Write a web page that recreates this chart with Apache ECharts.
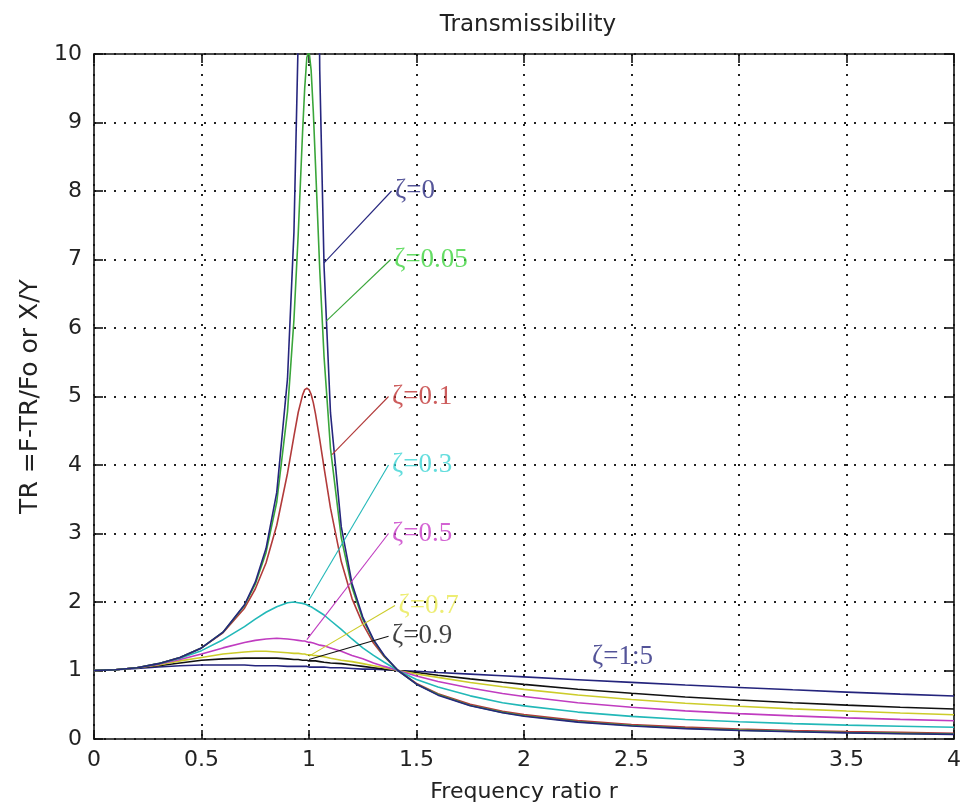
<!DOCTYPE html>
<html>
<head>
<meta charset="utf-8">
<script src="https://cdn.jsdelivr.net/npm/echarts@6/dist/echarts.min.js"></script>
<style>
  html, body { margin: 0; padding: 0; background: #fff; }
  #chart { width: 964px; height: 811px; }
</style>
</head>
<body>
<div id="chart"></div>
<script>
// Frequency ratio r (shared x values for every curve)
const ratio = [0, 0.1, 0.2, 0.3, 0.4, 0.5, 0.6, 0.7, 0.75, 0.8, 0.85, 0.9, 0.93, 0.95, 0.97, 0.98, 0.99, 1.0,
  1.01, 1.02, 1.03, 1.05, 1.07, 1.1, 1.15, 1.2, 1.25, 1.3, 1.35, 1.414, 1.5, 1.6, 1.75, 1.9, 2, 2.25, 2.5,
  2.75, 3, 3.25, 3.5, 3.75, 4];

// Transmissibility for each damping ratio
const tr_0 = [1, 1.01, 1.04, 1.10, 1.19, 1.33, 1.56, 1.96, 2.29, 2.78, 3.60, 5.26, 7.40, 10.26, 16.9, 25.3, 50.3, null,
  49.8, 24.8, 16.4, 9.76, 6.90, 4.76, 3.10, 2.27, 1.78, 1.45, 1.22, 1.00, 0.80, 0.64, 0.485, 0.383, 0.333, 0.246, 0.190,
  0.152, 0.125, 0.105, 0.089, 0.077, 0.067];
const tr_005 = [1, 1.01, 1.04, 1.10, 1.19, 1.33, 1.56, 1.95, 2.26, 2.72, 3.46, 4.78, 6.12, 7.38, 8.85, 9.50, 9.95, 10.05,
  9.76, 9.16, 8.40, 6.85, 5.58, 4.24, 2.94, 2.21, 1.75, 1.44, 1.21, 1.00, 0.80, 0.65, 0.49, 0.389, 0.339, 0.252, 0.196,
  0.158, 0.130, 0.110, 0.094, 0.082, 0.072];
const tr_01 = [1, 1.01, 1.04, 1.10, 1.19, 1.33, 1.55, 1.91, 2.19, 2.57, 3.12, 3.88, 4.42, 4.77, 5.02, 5.10, 5.12, 5.10,
  5.03, 4.91, 4.75, 4.37, 3.96, 3.37, 2.59, 2.05, 1.68, 1.40, 1.20, 1.00, 0.81, 0.66, 0.506, 0.406, 0.356, 0.268, 0.212,
  0.173, 0.145, 0.124, 0.108, 0.096, 0.085];
const tr_03 = [1, 1.01, 1.04, 1.10, 1.18, 1.29, 1.45, 1.64, 1.75, 1.85, 1.93, 1.99, 2.00, 1.99, 1.98, 1.97, 1.96, 1.94,
  1.93, 1.91, 1.89, 1.85, 1.81, 1.73, 1.60, 1.46, 1.33, 1.22, 1.12, 1.00, 0.87, 0.76, 0.63, 0.53, 0.483, 0.393, 0.330,
  0.285, 0.251, 0.225, 0.203, 0.186, 0.171];
const tr_05 = [1, 1.01, 1.04, 1.09, 1.16, 1.24, 1.33, 1.41, 1.44, 1.46, 1.47, 1.46, 1.45, 1.44, 1.43, 1.43, 1.42, 1.41,
  1.41, 1.40, 1.39, 1.37, 1.36, 1.33, 1.28, 1.22, 1.17, 1.11, 1.06, 1.00, 0.92, 0.84, 0.745, 0.665, 0.620, 0.530, 0.463,
  0.411, 0.370, 0.337, 0.309, 0.286, 0.266];
const tr_07 = [1, 1.01, 1.04, 1.08, 1.14, 1.19, 1.24, 1.27, 1.28, 1.28, 1.27, 1.26, 1.25, 1.25, 1.24, 1.24, 1.23, 1.23,
  1.23, 1.22, 1.22, 1.21, 1.20, 1.18, 1.15, 1.13, 1.10, 1.07, 1.04, 1.00, 0.95, 0.90, 0.826, 0.763, 0.725, 0.643, 0.577,
  0.523, 0.478, 0.440, 0.408, 0.380, 0.355];
const tr_09 = [1, 1.01, 1.04, 1.07, 1.11, 1.15, 1.17, 1.18, 1.18, 1.18, 1.18, 1.17, 1.16, 1.16, 1.15, 1.15, 1.15, 1.14,
  1.14, 1.14, 1.14, 1.13, 1.12, 1.11, 1.10, 1.08, 1.06, 1.04, 1.02, 1.00, 0.97, 0.93, 0.878, 0.828, 0.797, 0.727, 0.667,
  0.614, 0.569, 0.529, 0.495, 0.464, 0.437];
const tr_15 = [1, 1.01, 1.03, 1.05, 1.07, 1.08, 1.08, 1.08, 1.07, 1.07, 1.07, 1.06, 1.06, 1.06, 1.06, 1.06, 1.06, 1.05,
  1.05, 1.05, 1.05, 1.05, 1.05, 1.04, 1.04, 1.03, 1.02, 1.02, 1.01, 1.00, 0.99, 0.97, 0.947, 0.923, 0.907, 0.866, 0.826,
  0.788, 0.752, 0.718, 0.685, 0.655, 0.627];

const curveNames = ['ζ=0', 'ζ=0.05', 'ζ=0.1', 'ζ=0.3', 'ζ=0.5', 'ζ=0.7', 'ζ=0.9', 'ζ=1:5'];
const curveValues = [tr_0, tr_005, tr_01, tr_03, tr_05, tr_07, tr_09, tr_15];

// Annotation leaders: from a point on the curve to where the text starts
const leaderFrom = [[1.07, 6.95], [1.08, 6.1], [1.107, 4.15], [1.0, 2.03], [0.99, 1.45], [1.0, 1.21], [1.0, 1.16], null];
const leaderTo = [[1.384, 8.0], [1.38, 7.0], [1.37, 5.0], [1.37, 4.0], [1.37, 3.0], [1.4, 1.95], [1.37, 1.5], [2.30, 1.2]];

// Axis ranges and tick steps
const xRange = [0, 4], xStep = 0.5;
const yRange = [0, 10], yStep = 1;

const lineColors = ['#26267e', '#3aa63a', '#b23b3b', '#22b8b8', '#c03cc0', '#cccc2a', '#111111', '#24247c'];
const textColors = ['#2a2a80', '#3ed43e', '#c03434', '#3cd4d4', '#c83cc8', '#e8e850', '#111111', '#28287e'];

const chart = echarts.init(document.getElementById('chart'), null, { renderer: 'canvas' });

const sansFont = 'DejaVu Sans';
const labelFont = 'Liberation Serif';

const series = curveValues.map((vals, i) => {
  const s = {
    type: 'line',
    name: curveNames[i],
    data: ratio.map((x, k) => [x, vals[k] === null ? '-' : vals[k]]),
    showSymbol: false,
    symbol: 'none',
    clip: true,
    lineStyle: { color: lineColors[i], width: 1.6 },
    animation: false,
    z: 3 + (curveValues.length - i) * 0.01
  };
  if (leaderFrom[i]) {
    s.markLine = {
      silent: true,
      symbol: 'none',
      animation: false,
      label: { show: false },
      lineStyle: { color: lineColors[i], width: 1.1, type: 'solid' },
      data: [[{ coord: leaderFrom[i] }, { coord: leaderTo[i] }]]
    };
  }
  return s;
});

// Text of the annotations
series.push({
  type: 'scatter',
  symbol: 'circle',
  symbolSize: 1,
  itemStyle: { color: 'rgba(0,0,0,0)' },
  silent: true,
  animation: false,
  z: 10,
  data: leaderTo.map((p, i) => ({
    value: p,
    label: {
      show: true,
      position: 'right',
      distance: 3,
      formatter: curveNames[i],
      color: textColors[i],
      fontFamily: labelFont,
      fontSize: 27
    }
  }))
});

const axisLineStyle = { color: '#111', width: 1.6 };
const tickLabel = { color: '#222', fontFamily: sansFont, fontSize: 22 };

chart.setOption({
  backgroundColor: '#ffffff',
  animation: false,
  title: {
    text: 'Transmissibility',
    left: 523,
    top: 9,
    textAlign: 'center',
    textStyle: { fontFamily: sansFont, fontSize: 23, fontWeight: 'normal', color: '#222' }
  },
  grid: { left: 94, right: 6, top: 54, bottom: 72, containLabel: false },
  xAxis: [
    {
      type: 'value', min: xRange[0], max: xRange[1], interval: xStep, position: 'bottom',
      name: 'Frequency ratio r', nameLocation: 'middle', nameGap: 42,
      nameTextStyle: { fontFamily: sansFont, fontSize: 22, color: '#222' },
      axisLine: { show: true, onZero: false, lineStyle: axisLineStyle },
      axisTick: { show: true, inside: true, length: 9, lineStyle: axisLineStyle },
      axisLabel: Object.assign({ margin: 10 }, tickLabel),
      splitLine: { show: true, lineStyle: { color: '#222', width: 2, type: [2, 8] } }
    },
    {
      type: 'value', min: xRange[0], max: xRange[1], interval: xStep, position: 'top',
      axisLine: { show: true, onZero: false, lineStyle: axisLineStyle },
      axisTick: { show: true, inside: true, length: 9, lineStyle: axisLineStyle },
      axisLabel: { show: false },
      splitLine: { show: false }
    }
  ],
  yAxis: [
    {
      type: 'value', min: yRange[0], max: yRange[1], interval: yStep, position: 'left',
      name: 'TR =F-TR/Fo or X/Y', nameLocation: 'middle', nameGap: 50,
      nameTextStyle: { fontFamily: sansFont, fontSize: 25, color: '#222' },
      axisLine: { show: true, onZero: false, lineStyle: axisLineStyle },
      axisTick: { show: true, inside: true, length: 9, lineStyle: axisLineStyle },
      axisLabel: Object.assign({ margin: 12 }, tickLabel),
      splitLine: { show: true, lineStyle: { color: '#222', width: 2, type: [2, 8] } }
    },
    {
      type: 'value', min: yRange[0], max: yRange[1], interval: yStep, position: 'right',
      axisLine: { show: true, onZero: false, lineStyle: axisLineStyle },
      axisTick: { show: true, inside: true, length: 9, lineStyle: axisLineStyle },
      axisLabel: { show: false },
      splitLine: { show: false }
    }
  ],
  series: series
});
</script>
</body>
</html>
